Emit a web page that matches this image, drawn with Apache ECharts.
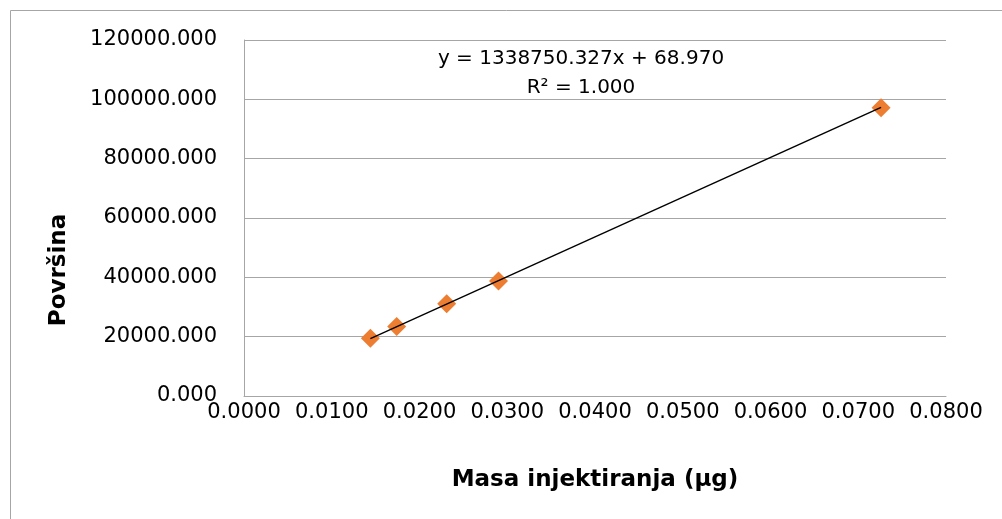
<!DOCTYPE html>
<html>
<head>
<meta charset="utf-8">
<script src="https://cdn.jsdelivr.net/npm/echarts@6/dist/echarts.min.js"></script>
<style>
html,body{margin:0;padding:0;background:#fff;}
#chart{width:1002px;height:519px;}
</style>
</head>
<body>
<div id="chart"></div>
<script>
// Data
var massValues = [0.0144, 0.0174, 0.0231, 0.0290, 0.0726];
var areaValues = [19450, 23400, 31100, 38800, 97200];
var trendSlope = 1338750.327;
var trendIntercept = 68.970;
var xTickLabels = ['0.0000','0.0100','0.0200','0.0300','0.0400','0.0500','0.0600','0.0700','0.0800'];
var yTickLabels = ['0.000','20000.000','40000.000','60000.000','80000.000','100000.000','120000.000'];
var equationText = 'y = 1338750.327x + 68.970';
var r2Text = 'R² = 1.000';
var xTitle = 'Masa injektiranja (µg)';
var yTitle = 'Površina';

var points = massValues.map(function (x, i) { return [x, areaValues[i]]; });
var xMin = Math.min.apply(null, massValues);
var xMax = Math.max.apply(null, massValues);
var trendPoints = [[xMin, trendSlope * xMin + trendIntercept], [xMax, trendSlope * xMax + trendIntercept]];

var FONT = 'DejaVu Sans';
var chart = echarts.init(document.getElementById('chart'), null, {renderer: 'canvas'});
chart.setOption({
  animation: false,
  backgroundColor: '#ffffff',
  grid: {left: 244, top: 40, right: 56, bottom: 123, containLabel: false},
  xAxis: {
    type: 'value', min: 0, max: 0.08, interval: 0.01,
    name: xTitle, nameLocation: 'middle', nameGap: 73,
    nameTextStyle: {fontFamily: FONT, fontWeight: 'bold', fontSize: 23, color: '#000'},
    axisLine: {show: true, lineStyle: {color: '#a6a6a6', width: 1}},
    axisTick: {show: false},
    splitLine: {show: false},
    axisLabel: {
      fontFamily: FONT, fontSize: 21, color: '#000', margin: 6,
      formatter: function (v) { return xTickLabels[Math.round(v / 0.01)]; }
    }
  },
  yAxis: {
    type: 'value', min: 0, max: 120000, interval: 20000,
    axisLine: {show: true, lineStyle: {color: '#a6a6a6', width: 1}},
    axisTick: {show: false},
    splitLine: {show: true, lineStyle: {color: '#a6a6a6', width: 1}},
    axisLabel: {
      fontFamily: FONT, fontSize: 21, color: '#000', margin: 27,
      formatter: function (v) { return yTickLabels[Math.round(v / 20000)]; }
    }
  },
  series: [
    {
      type: 'scatter', data: points, symbol: 'diamond', symbolSize: 19,
      itemStyle: {color: '#ED7D31', opacity: 1}, z: 2
    },
    {
      type: 'line', data: trendPoints, symbol: 'none', z: 3,
      lineStyle: {color: '#000', width: 1.4}
    }
  ],
  graphic: [
    {type: 'rect', shape: {x: 10.5, y: 10.5, width: 1100, height: 600},
     style: {fill: 'none', stroke: '#a6a6a6', lineWidth: 1}, silent: true, z: -10},
    {type: 'text', x: 59, y: 270, rotation: Math.PI / 2,
     style: {text: yTitle, font: 'bold 23px "DejaVu Sans"', fill: '#000', align: 'center', verticalAlign: 'middle'}},
    {type: 'text', x: 581, y: 59,
     style: {text: equationText, font: '20px "DejaVu Sans"', fill: '#000', align: 'center', verticalAlign: 'middle'}},
    {type: 'text', x: 581, y: 88,
     style: {text: r2Text, font: '20px "DejaVu Sans"', fill: '#000', align: 'center', verticalAlign: 'middle'}}
  ]
});
</script>
</body>
</html>
